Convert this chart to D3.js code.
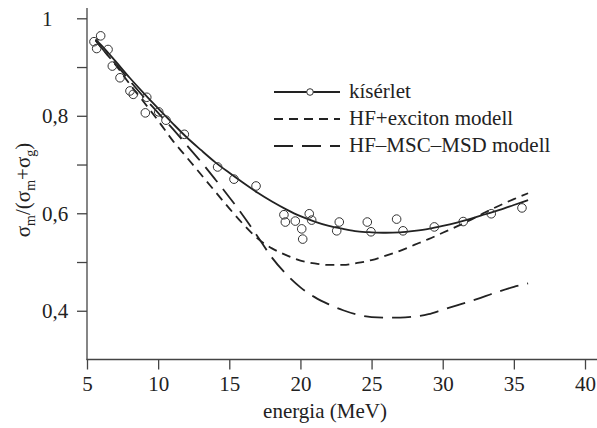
<!DOCTYPE html>
<html>
<head>
<meta charset="utf-8">
<script src="https://cdn.jsdelivr.net/npm/d3@7"></script>
<style>
  body { margin: 0; background: #fff; }
  text { font-family: "Liberation Serif", "Times New Roman", serif; fill: #222; }
</style>
</head>
<body>
<svg id="chart" width="597" height="428"></svg>
<script>
// measured points
var expE = [5.49, 5.96, 5.68, 6.48, 6.78, 7.32, 8.02, 8.25, 9.20, 9.10, 10.04, 10.55, 11.84,
  14.18, 15.33, 16.88, 18.84, 18.94, 19.64, 20.62, 20.79, 20.09, 20.16, 22.73, 22.55,
  24.70, 24.96, 26.76, 27.21, 29.41, 31.44, 33.41, 35.57];
var expY = [0.952, 0.964, 0.938, 0.936, 0.902, 0.878, 0.851, 0.844, 0.838, 0.806, 0.808, 0.791, 0.762,
  0.695, 0.670, 0.656, 0.597, 0.582, 0.584, 0.599, 0.586, 0.568, 0.547, 0.582, 0.564,
  0.582, 0.562, 0.588, 0.564, 0.572, 0.583, 0.599, 0.611];

// curves share the same energies
var curveE = [5.6, 6, 7, 8, 9, 10, 11, 12, 13, 14, 15, 16, 17, 18, 19, 20, 21, 22, 23, 24,
  25, 26, 27, 28, 29, 30, 31, 32, 33, 34, 35, 36];
var fitY = [0.957, 0.945, 0.912, 0.878, 0.846, 0.815, 0.785, 0.756, 0.730, 0.705, 0.683, 0.662,
  0.642, 0.624, 0.608, 0.594, 0.583, 0.574, 0.568, 0.563, 0.561, 0.560, 0.561, 0.564, 0.568,
  0.574, 0.581, 0.589, 0.598, 0.607, 0.617, 0.627];
var excitonY = [0.955, 0.940, 0.905, 0.865, 0.828, 0.790, 0.750, 0.715, 0.680, 0.645, 0.610, 0.577,
  0.548, 0.528, 0.514, 0.503, 0.497, 0.494, 0.494, 0.498, 0.504, 0.513, 0.523, 0.535, 0.547,
  0.560, 0.573, 0.587, 0.602, 0.616, 0.629, 0.641];
var msdY = [0.955, 0.940, 0.907, 0.872, 0.838, 0.806, 0.774, 0.740, 0.706, 0.670, 0.633, 0.594,
  0.552, 0.509, 0.475, 0.448, 0.428, 0.413, 0.401, 0.392, 0.387, 0.386, 0.386, 0.388, 0.393,
  0.402, 0.411, 0.420, 0.430, 0.440, 0.449, 0.456];

var xTicks = [5, 10, 15, 20, 25, 30, 35, 40];
var yMajor = [0.4, 0.6, 0.8, 1];
var yMinor = [0.5, 0.7, 0.9];
var legendNames = ["kísérlet", "HF+exciton modell", "HF–MSC–MSD modell"];

var svg = d3.select("#chart");
var x = d3.scaleLinear().domain([5, 40]).range([87, 585]);
var y = d3.scaleLinear().domain([0.3, 1]).range([359.5, 18.3]);
var ink = "#222", axisInk = "#444";
var serif = "'Liberation Serif', 'Times New Roman', serif";

// axes
var xAxis = svg.append("g").attr("transform", "translate(0,359.5)")
  .call(d3.axisBottom(x).tickValues(xTicks).tickSize(10).tickSizeOuter(0).tickPadding(7));
xAxis.select(".domain").remove();
xAxis.selectAll("line").attr("stroke", axisInk).attr("stroke-width", 1.3);
xAxis.selectAll("text").attr("font-size", 21).attr("font-family", serif).attr("fill", ink);

var yAxis = svg.append("g").attr("transform", "translate(87,0)")
  .call(d3.axisLeft(y).tickValues(yMajor.concat(yMinor)).tickSize(10).tickSizeOuter(0)
    .tickFormat(function(d) {
      if (yMinor.indexOf(d) >= 0) return "";
      return d === 1 ? "1" : String(d).replace(".", ",");
    }));
yAxis.select(".domain").remove();
yAxis.selectAll("line").attr("stroke", axisInk).attr("stroke-width", 1.3);
yAxis.selectAll("text").attr("font-size", 21).attr("font-family", serif)
  .attr("fill", ink).attr("text-anchor", "start").attr("x", -45);

svg.append("line").attr("x1", 87).attr("x2", 87).attr("y1", 8).attr("y2", 360)
  .attr("stroke", axisInk).attr("stroke-width", 1.3);
svg.append("line").attr("x1", 86.5).attr("x2", 597).attr("y1", 359.5).attr("y2", 359.5)
  .attr("stroke", axisInk).attr("stroke-width", 1.3);

// titles
svg.append("text").attr("x", 325).attr("y", 418).attr("text-anchor", "middle")
  .attr("font-size", 21).text("energia (MeV)");

var yt = svg.append("text").attr("transform", "translate(30,190) rotate(-90)")
  .attr("text-anchor", "middle").attr("font-size", 21);
yt.append("tspan").text("σ");
yt.append("tspan").attr("font-size", 14).attr("dy", 5).text("m");
yt.append("tspan").attr("dy", -5).text("/(σ");
yt.append("tspan").attr("font-size", 14).attr("dy", 5).text("m");
yt.append("tspan").attr("dy", -5).text("+σ");
yt.append("tspan").attr("font-size", 14).attr("dy", 5).text("g");
yt.append("tspan").attr("dy", -5).text(")");

// curves
function series(vals) {
  return curveE.map(function(e, i) { return [e, vals[i]]; });
}
var line = d3.line().x(function(d) { return x(d[0]); }).y(function(d) { return y(d[1]); })
  .curve(d3.curveMonotoneX);

var styles = [
  {vals: fitY, dash: null},
  {vals: excitonY, dash: "9,6"},
  {vals: msdY, dash: "19,9"}
];
styles.forEach(function(s) {
  svg.append("path").datum(series(s.vals)).attr("d", line)
    .attr("fill", "none").attr("stroke", ink).attr("stroke-width", 1.8)
    .attr("stroke-dasharray", s.dash);
});

// measured circles
svg.selectAll("circle.exp").data(expE).enter().append("circle")
  .attr("class", "exp")
  .attr("cx", function(d) { return x(d); })
  .attr("cy", function(d, i) { return y(expY[i]); })
  .attr("r", 4.3).attr("fill", "none").attr("stroke", "#333").attr("stroke-width", 1);

// legend
var leg = svg.append("g");
legendNames.forEach(function(name, i) {
  var ly = 92 + i * 27;
  leg.append("line").attr("x1", 274).attr("x2", 340).attr("y1", ly).attr("y2", ly)
    .attr("stroke", ink).attr("stroke-width", 1.8).attr("stroke-dasharray", styles[i].dash);
  if (i === 0) {
    leg.append("circle").attr("cx", 310).attr("cy", ly).attr("r", 3.3)
      .attr("fill", "#fff").attr("stroke", "#333").attr("stroke-width", 1);
  }
  leg.append("text").attr("x", 349).attr("y", ly + 6).attr("font-size", 21).text(name);
});
</script>
</body>
</html>
